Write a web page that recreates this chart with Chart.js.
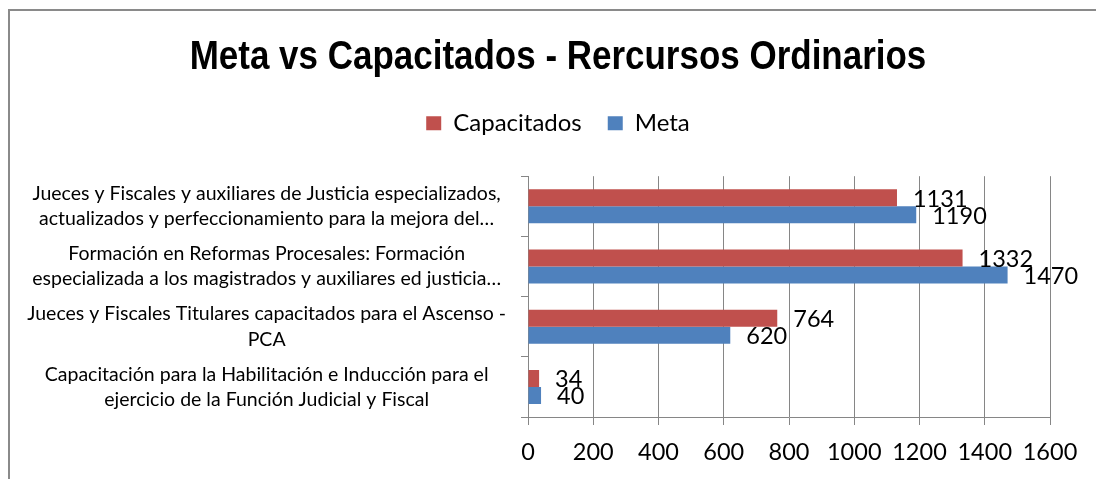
<!DOCTYPE html>
<html>
<head>
<meta charset="utf-8">
<script src="https://cdn.jsdelivr.net/npm/chart.js@4/dist/chart.umd.min.js"></script>
<style>
  html, body { margin: 0; padding: 0; background: #fff; overflow: hidden; }
  #wrap { position: relative; width: 1096px; height: 479px; }
  #frame { position: absolute; left: 8px; top: 9px; width: 1200px; height: 600px; border: 2px solid #8a8a8a; }
  #c { position: absolute; left: 0; top: 0; }
</style>
</head>
<body>
<div id="wrap">
  <div id="frame"></div>
  <canvas id="c" width="1096" height="479"></canvas>
</div>
<script>
// DATA

const categories = [
    ["Jueces y Fiscales y auxiliares de Justicia especializados,", "actualizados y perfeccionamiento para la mejora del…"],
    ["Formación en Reformas Procesales: Formación", "especializada a los magistrados y auxiliares ed justicia…"],
    ["Jueces y Fiscales Titulares capacitados para el Ascenso -", "PCA"],
    ["Capacitación para la Habilitación e Inducción para el", "ejercicio de la Función Judicial y Fiscal"]
];

const capacitados = [1131, 1332, 764, 34];
const meta = [1190, 1470, 620, 40];

const xTicks = [0, 200, 400, 600, 800, 1000, 1200, 1400, 1600];

const RED = "#c0504d";
const BLUE = "#4f81bd";
const GRID = "#868686";
const LABEL_FONT = "Lato, 'Open Sans', sans-serif";

Chart.defaults.color = "#000";

// value labels at the end of each bar
const valueLabels = {
    id: "valueLabels",
    afterDatasetsDraw(chart) {
        const ctx = chart.ctx;
        ctx.save();
        ctx.font = "23.5px " + LABEL_FONT;
        ctx.fillStyle = "#000";
        ctx.textAlign = "left";
        ctx.textBaseline = "middle";
        chart.data.datasets.forEach((ds, i) => {
            chart.getDatasetMeta(i).data.forEach((bar, j) => {
                ctx.fillText(String(ds.data[j]), bar.x + 16, bar.y + 1.5);
            });
        });
        ctx.restore();
    }
};

// legend gets a fixed height (room under it), title gets drawn condensed
const boxTweaks = {
    id: "boxTweaks",
    beforeLayout(chart) {
        const legend = chart.legend;
        if (legend && !legend._patched) {
            const fit = legend.fit;
            legend.fit = function () {
                fit.call(this);
                this.height = 91;
            };
            legend._patched = true;
        }
        const tb = chart.titleBlock;
        if (tb && !tb._patched) {
            const draw = tb.draw;
            tb.draw = function () {
                const ctx = this.ctx;
                const cx = (this.left + this.right) / 2;
                ctx.save();
                ctx.translate(cx, 0);
                ctx.scale(0.853, 1);
                ctx.translate(-cx, 0);
                draw.call(this);
                ctx.restore();
            };
            tb._patched = true;
        }
    }
};

new Chart(document.getElementById("c"), {
    type: "bar",
    data: {
        labels: categories,
        datasets: [
            {
                label: "Capacitados",
                data: capacitados,
                backgroundColor: RED,
                borderWidth: 0,
                categoryPercentage: 0.565,
                barPercentage: 1.0
            },
            {
                label: "Meta",
                data: meta,
                backgroundColor: BLUE,
                borderWidth: 0,
                categoryPercentage: 0.565,
                barPercentage: 1.0
            }
        ]
    },
    options: {
        indexAxis: "y",
        responsive: false,
        animation: false,
        devicePixelRatio: 1,
        layout: {
            padding: { left: 20, right: 0, top: 0, bottom: 0 }
        },
        scales: {
            x: {
                min: 0,
                max: 1600,
                afterBuildTicks(scale) {
                    scale.ticks = xTicks.map(v => ({ value: v }));
                },
                afterFit(scale) {
                    scale.height = 62;
                    scale.paddingRight = 46;
                },
                grid: {
                    color: GRID,
                    tickColor: GRID,
                    tickLength: 8,
                    lineWidth: 1
                },
                border: { color: GRID },
                ticks: {
                    font: { family: LABEL_FONT, size: 23.5 },
                    padding: 13,
                    callback: v => String(v)
                }
            },
            y: {
                afterFit(scale) {
                    scale.width = 508;
                    scale.paddingTop = 0;
                    scale.paddingBottom = 0;
                },
                grid: {
                    drawOnChartArea: false,
                    color: GRID,
                    tickColor: GRID,
                    tickLength: 7,
                    offset: true
                },
                border: { color: GRID },
                ticks: {
                    crossAlign: "center",
                    padding: 15,
                    font: { family: LABEL_FONT, size: 19.5, lineHeight: 1.3 }
                }
            }
        },
        plugins: {
            title: {
                display: true,
                text: "Meta vs Capacitados - Rercursos Ordinarios",
                color: "#000",
                font: {
                    family: "'Liberation Sans', Arial, sans-serif",
                    size: 41,
                    weight: "bold",
                    lineHeight: 1.2
                },
                padding: { top: 33, bottom: 3 }
            },
            legend: {
                position: "top",
                labels: {
                    boxWidth: 15,
                    boxHeight: 14,
                    padding: 26,
                    font: { family: LABEL_FONT, size: 24 }
                }
            },
            tooltip: { enabled: false }
        }
    },
    plugins: [valueLabels, boxTweaks]
});
</script>
</body>
</html>
